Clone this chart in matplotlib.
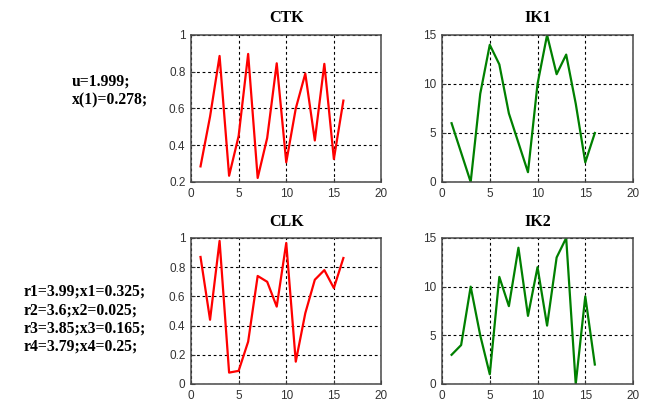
import numpy as np
import matplotlib
matplotlib.use("Agg")
import matplotlib.pyplot as plt
from matplotlib.ticker import FuncFormatter

n = np.arange(1, 17)

ctk = [0.285, 0.556, 0.886, 0.234, 0.45, 0.897, 0.222, 0.44, 0.846, 0.307,
       0.60, 0.79, 0.426, 0.843, 0.325, 0.643]
ik1 = [6, 3, 0, 9, 14, 12, 7, 4, 1, 10, 15, 11, 13, 8, 2, 5]
clk = [0.87, 0.44, 0.98, 0.078, 0.09, 0.29, 0.74, 0.70, 0.53, 0.966,
       0.153, 0.485, 0.714, 0.78, 0.657, 0.863]
ik2 = [3, 4, 10, 5, 1, 11, 8, 14, 7, 12, 6, 13, 15, 0, 9, 2]

titles = ["CTK", "IK1", "CLK", "IK2"]
text_top = ["u=1.999;", "x(1)=0.278;"]
text_bottom = ["r1=3.99;x1=0.325;", "r2=3.6;x2=0.025;",
               "r3=3.85;x3=0.165;", "r4=3.79;x4=0.25;"]

fig = plt.figure(figsize=(6.51, 4.0), dpi=100)

boxes = [
    [0.2934, 0.545, 0.2926, 0.3675],
    [0.679, 0.545, 0.2934, 0.3675],
    [0.2934, 0.040, 0.2926, 0.365],
    [0.679, 0.040, 0.2934, 0.365],
]
series = [ctk, ik1, clk, ik2]
colors = ["#ff0000", "#008000", "#ff0000", "#008000"]
ylims = [(0.2, 1), (0, 15), (0, 1), (0, 15)]
yticks = [np.arange(0.2, 1.01, 0.2), [0, 5, 10, 15], np.arange(0, 1.01, 0.2), [0, 5, 10, 15]]


def fmt(v, pos):
    s = f"{v:.1f}".rstrip("0").rstrip(".")
    return s


for box, y, c, yl, yt, t in zip(boxes, series, colors, ylims, yticks, titles):
    ax = fig.add_axes(box)
    ax.plot(n, y, color=c, lw=1.6)
    ax.set_xlim(0, 20)
    ax.set_ylim(*yl)
    ax.set_xticks([0, 5, 10, 15, 20])
    ax.set_yticks(yt)
    ax.yaxis.set_major_formatter(FuncFormatter(fmt))
    ax.grid(True, color="black", linestyle=(0, (2.5, 2.5)), lw=0.8)
    ax.tick_params(direction="in", length=3, labelsize=8.5, colors="#333333", pad=4)
    for lab in ax.get_xticklabels() + ax.get_yticklabels():
        lab.set_fontfamily("Liberation Sans")
    for sp in ax.spines.values():
        sp.set_color("#484848")
        sp.set_linewidth(1.1)
    ax.set_title(t, fontfamily="Liberation Serif", fontweight="bold", fontsize=11.5, pad=9)

for i, s in enumerate(text_top):
    fig.text(72 / 651, 1 - (82 + i * 18.3) / 400, s, fontfamily="Liberation Serif",
             fontweight="bold", fontsize=11.3, va="center", ha="left")
for i, s in enumerate(text_bottom):
    fig.text(24 / 651, 1 - (292 + i * 18.3) / 400, s, fontfamily="Liberation Serif",
             fontweight="bold", fontsize=11.3, va="center", ha="left")

fig.savefig("out.png", dpi=100)
